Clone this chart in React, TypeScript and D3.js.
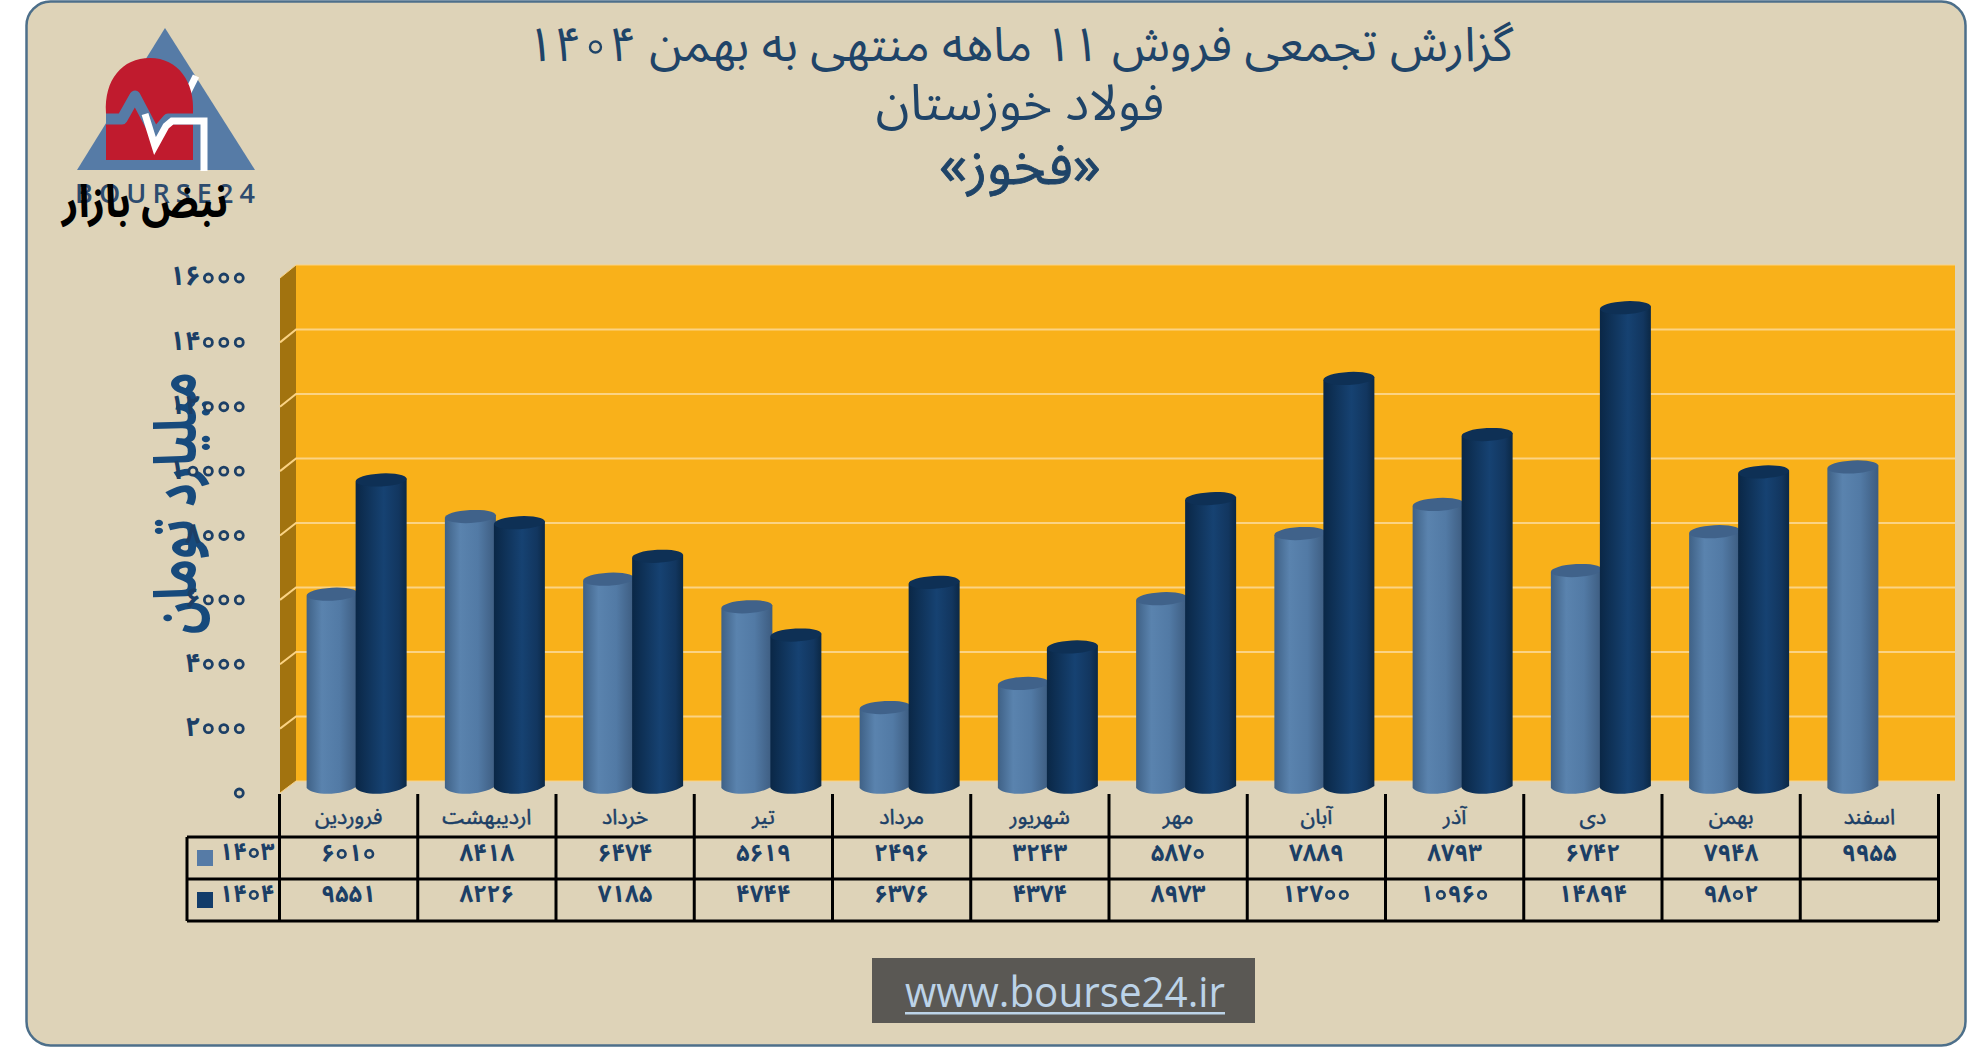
import React, { useEffect, useRef } from "react";
import * as d3 from "d3";

const months = ["فروردین","اردیبهشت","خرداد","تیر","مرداد","شهریور","مهر","آبان","آذر","دی","بهمن","اسفند"];
const sales1403: (number | null)[] = [6010,8418,6474,5619,2496,3243,5870,7889,8793,6742,7948,9955];
const sales1404: (number | null)[] = [9551,8226,7185,4744,6376,4374,8973,12700,10960,14894,9802,null];
const seriesNames = ["۱۴۰۳","۱۴۰۴"];
const yTicks = [0,2000,4000,6000,8000,10000,12000,14000,16000];
const titleLines = ["گزارش تجمعی فروش ۱۱ ماهه منتهی به بهمن ۱۴۰۴","فولاد خوزستان","«فخوز»"];
const yAxisTitle = "میلیارد تومان";
const siteUrl = "www.bourse24.ir";

const W = 1986, H = 1047;
const FONT = "'Noto Sans Arabic','DejaVu Sans',sans-serif";
const NAVY = "#1c3f66";
const TITLE = "#1f4468";
const PAPER = "#ded3b8";

const fa = (v: number) => String(v).replace(/\d/g, d => "۰۱۲۳۴۵۶۷۸۹"[+d]);

const x = d3.scaleBand<string>().domain(months).range([279.5, 1938.5]);
const yWall = d3.scaleLinear().domain([0, 16000]).range([781, 265]);
const yFront = d3.scaleLinear().domain([0, 16000]).range([793, 278]);
const yBar = d3.scaleLinear().domain([0, 16000]).range([788, 272]);
const wallL = 296, wallR = 1955, frontL = 280;
const rowYs = [794, 837, 879, 921];
const barW = 51, barOverlap = 2;

function Cyl({ cx, v, grad, top }: { cx: number; v: number; grad: string; top: string }) {
  const yt = yBar(v), yb = yBar(0), rx = barW / 2, ry = 6.5;
  const path = d3.path();
  path.moveTo(cx - rx, yt + 1.5);
  path.lineTo(cx - rx, yb);
  path.bezierCurveTo(cx - rx + 6, yb + 8, cx + rx - 14, yb + 8, cx + rx, yb - 2);
  path.lineTo(cx + rx, yt - 1.5);
  path.closePath();
  return (
    <g>
      <path d={path.toString()} fill={`url(#${grad})`} />
      <ellipse cx={cx} cy={yt} rx={rx} ry={ry} fill={top} transform={`rotate(-3 ${cx} ${yt})`} />
    </g>
  );
}

export default function App() {
  const bw = x.bandwidth();
  const svgRef = useRef<SVGSVGElement>(null);
  const ringsRef = useRef<SVGGElement>(null);

  // The reference's font draws the Persian zero as a hollow ring: put a ring on each one.
  useEffect(() => {
    const rings = d3.select(ringsRef.current);
    rings.selectAll("*").remove();
    svgRef.current!.querySelectorAll<SVGTextElement>("text[data-ring]").forEach(el => {
      const [r, sw, cy] = el.getAttribute("data-ring")!.split(",").map(Number);
      const color = el.getAttribute("data-color") || NAVY;
      Array.from(el.textContent || "").forEach((ch, i) => {
        if (ch !== "۰") return;
        const e = el.getExtentOfChar(i);
        rings.append("circle")
          .attr("cx", e.x + e.width / 2).attr("cy", cy).attr("r", r)
          .attr("fill", PAPER).attr("stroke", color).attr("stroke-width", sw);
      });
    });
  }, []);

  return (
    <svg ref={svgRef} width={W} height={H} viewBox={`0 0 ${W} ${H}`} style={{ position: "absolute", left: 0, top: 0, display: "block" }} fontFamily={FONT}>
      <defs>
        <linearGradient id="lightBar" x1="0" x2="1" y1="0" y2="0">
          <stop offset="0" stopColor="#3f6186" />
          <stop offset="0.3" stopColor="#5a83ae" />
          <stop offset="0.65" stopColor="#527aa5" />
          <stop offset="1" stopColor="#3d5c80" />
        </linearGradient>
        <linearGradient id="darkBar" x1="0" x2="1" y1="0" y2="0">
          <stop offset="0" stopColor="#0a2746" />
          <stop offset="0.55" stopColor="#164272" />
          <stop offset="0.85" stopColor="#12365f" />
          <stop offset="1" stopColor="#0b2845" />
        </linearGradient>
      </defs>
      <rect width={W} height={H} fill="#ffffff" />
      <rect x={26.5} y={1.5} width={1939} height={1044} rx={24} fill={PAPER} stroke="#4d6f8a" strokeWidth={2.5} />

      {/* Logo */}
      <g>
        <path d="M165 28 L255 170 L77 170 Z" fill="#567ba6" />
        <path d="M196 76 L188 92" fill="none" stroke="#ffffff" strokeWidth={7} />
        <path d="M106 113 C104 80 122 58 150 58 C178 58 195 82 193 113 L193 125 L106 125 Z" fill="#c01b2e" />
        <rect x={106} y={125} width={87} height={35} fill="#c01b2e" />
        <path d="M106 119 L122 119 L135 96 L155 134 L168 119 L193 119" fill="none" stroke="#567ba6" strokeWidth={11} strokeLinejoin="round" />
        <path d="M145 114 L155 146 L166 126 L172 121 L204 121 L204 171" fill="none" stroke="#ffffff" strokeWidth={7} />
        <text x={165} y={203} textAnchor="middle" fontSize={27} fontWeight={600} fill="#2d4b6e" fontFamily="'Open Sans',sans-serif" textLength={180} lengthAdjust="spacing">BOURSE24</text>
        <text x={145} y={217} textAnchor="middle" fontSize={45} fontWeight="bold" fill="#000000" direction="rtl" textLength={166} lengthAdjust="spacingAndGlyphs">نبض بازار</text>
      </g>

      {/* Title */}
      <g fill={TITLE} textAnchor="middle" direction="rtl">
        <text x={1020} y={61} fontSize={48} data-ring="5.5,2.4,47" data-color={TITLE}>{titleLines[0]}</text>
        <text x={1020} y={120} fontSize={50}>{titleLines[1]}</text>
        <text x={1020} y={184} fontSize={55} stroke={TITLE} strokeWidth={0.9}>{titleLines[2]}</text>
      </g>

      {/* Walls */}
      <rect x={wallL} y={yWall(16000)} width={wallR - wallL} height={yWall(0) - yWall(16000)} fill="#f9b11a" />
      <path d={`M${frontL} ${yFront(16000)} L${wallL} ${yWall(16000)} L${wallL} ${yWall(0)} L${frontL} ${yFront(0)} Z`} fill="#a2730f" />
      {yTicks.map(t => (
        <path key={t} d={`M${frontL} ${yFront(t)} L${wallL} ${yWall(t)} L${wallR} ${yWall(t)}`} fill="none" stroke="#fbd384" strokeWidth={t === 0 || t === 16000 ? 1 : 2} />
      ))}

      {/* Bars */}
      {months.map((m, i) => {
        const c = (x(m) as number) + bw / 2 + 8;
        const a = sales1403[i], b = sales1404[i];
        return (
          <g key={m}>
            {a !== null && <Cyl cx={c - barW / 2 + barOverlap / 2} v={a} grad="lightBar" top="#40628a" />}
            {b !== null && <Cyl cx={c + barW / 2 - barOverlap / 2} v={b} grad="darkBar" top="#0e3055" />}
          </g>
        );
      })}

      {/* Y axis title, drawn under the tick labels */}
      <text transform="translate(180 503) rotate(-90) scale(0.95 1.22)" textAnchor="middle" dominantBaseline="middle" direction="rtl" fontSize={48} fontWeight="bold" fill="#174a7c">{yAxisTitle}</text>

      {/* Y tick labels */}
      <g fill={NAVY} fontWeight="bold" fontSize={27} textAnchor="end">
        {yTicks.map(t => (
          <text key={t} x={247} y={yFront(t)} dominantBaseline="middle" data-ring={`4,2.8,${yFront(t)}`}>{fa(t)}</text>
        ))}
      </g>

      {/* Data table */}
      <g stroke="#000000" strokeWidth={3} fill="none">
        {rowYs.slice(1).map(r => <line key={r} x1={187} x2={1938.5} y1={r} y2={r} />)}
        <line x1={187} x2={187} y1={rowYs[1]} y2={rowYs[3]} />
        {months.map(m => <line key={m} x1={x(m) as number} x2={x(m) as number} y1={rowYs[0]} y2={rowYs[3]} />)}
        <line x1={1938.5} x2={1938.5} y1={rowYs[0]} y2={rowYs[3]} />
      </g>
      <g fill={NAVY} textAnchor="middle">
        {months.map((m, i) => {
          const cx = (x(m) as number) + bw / 2;
          const a = sales1403[i], b = sales1404[i];
          return (
            <g key={m}>
              <text x={cx} y={818} fontSize={21.5} stroke={NAVY} strokeWidth={0.5} dominantBaseline="middle" direction="rtl">{m}</text>
              {a !== null && <text x={cx} y={854} fontSize={24} fontWeight="bold" dominantBaseline="middle" data-ring="3.8,2.6,854">{fa(a)}</text>}
              {b !== null && <text x={cx} y={895} fontSize={24} fontWeight="bold" dominantBaseline="middle" data-ring="3.8,2.6,895">{fa(b)}</text>}
            </g>
          );
        })}
      </g>
      <rect x={197} y={850} width={16} height={16} fill="#567ba6" />
      <rect x={197} y={892} width={16} height={16} fill="#123c6a" />
      <g fill={NAVY} fontWeight="bold" fontSize={24} textAnchor="middle">
        <text x={247} y={853} dominantBaseline="middle" data-ring="3.8,2.6,853">{seriesNames[0]}</text>
        <text x={247} y={895} dominantBaseline="middle" data-ring="3.8,2.6,895">{seriesNames[1]}</text>
      </g>
      <g ref={ringsRef} />

      {/* Footer */}
      <rect x={872} y={958} width={383} height={65} fill="#5a5854" />
      <text x={1065} y={1007} textAnchor="middle" fontSize={42} fill="#bcd3e8" fontFamily="'Open Sans',Lato,sans-serif" textLength={320} lengthAdjust="spacingAndGlyphs">{siteUrl}</text>
      <rect x={905} y={1012} width={320} height={2.5} fill="#bcd3e8" />
    </svg>
  );
}
